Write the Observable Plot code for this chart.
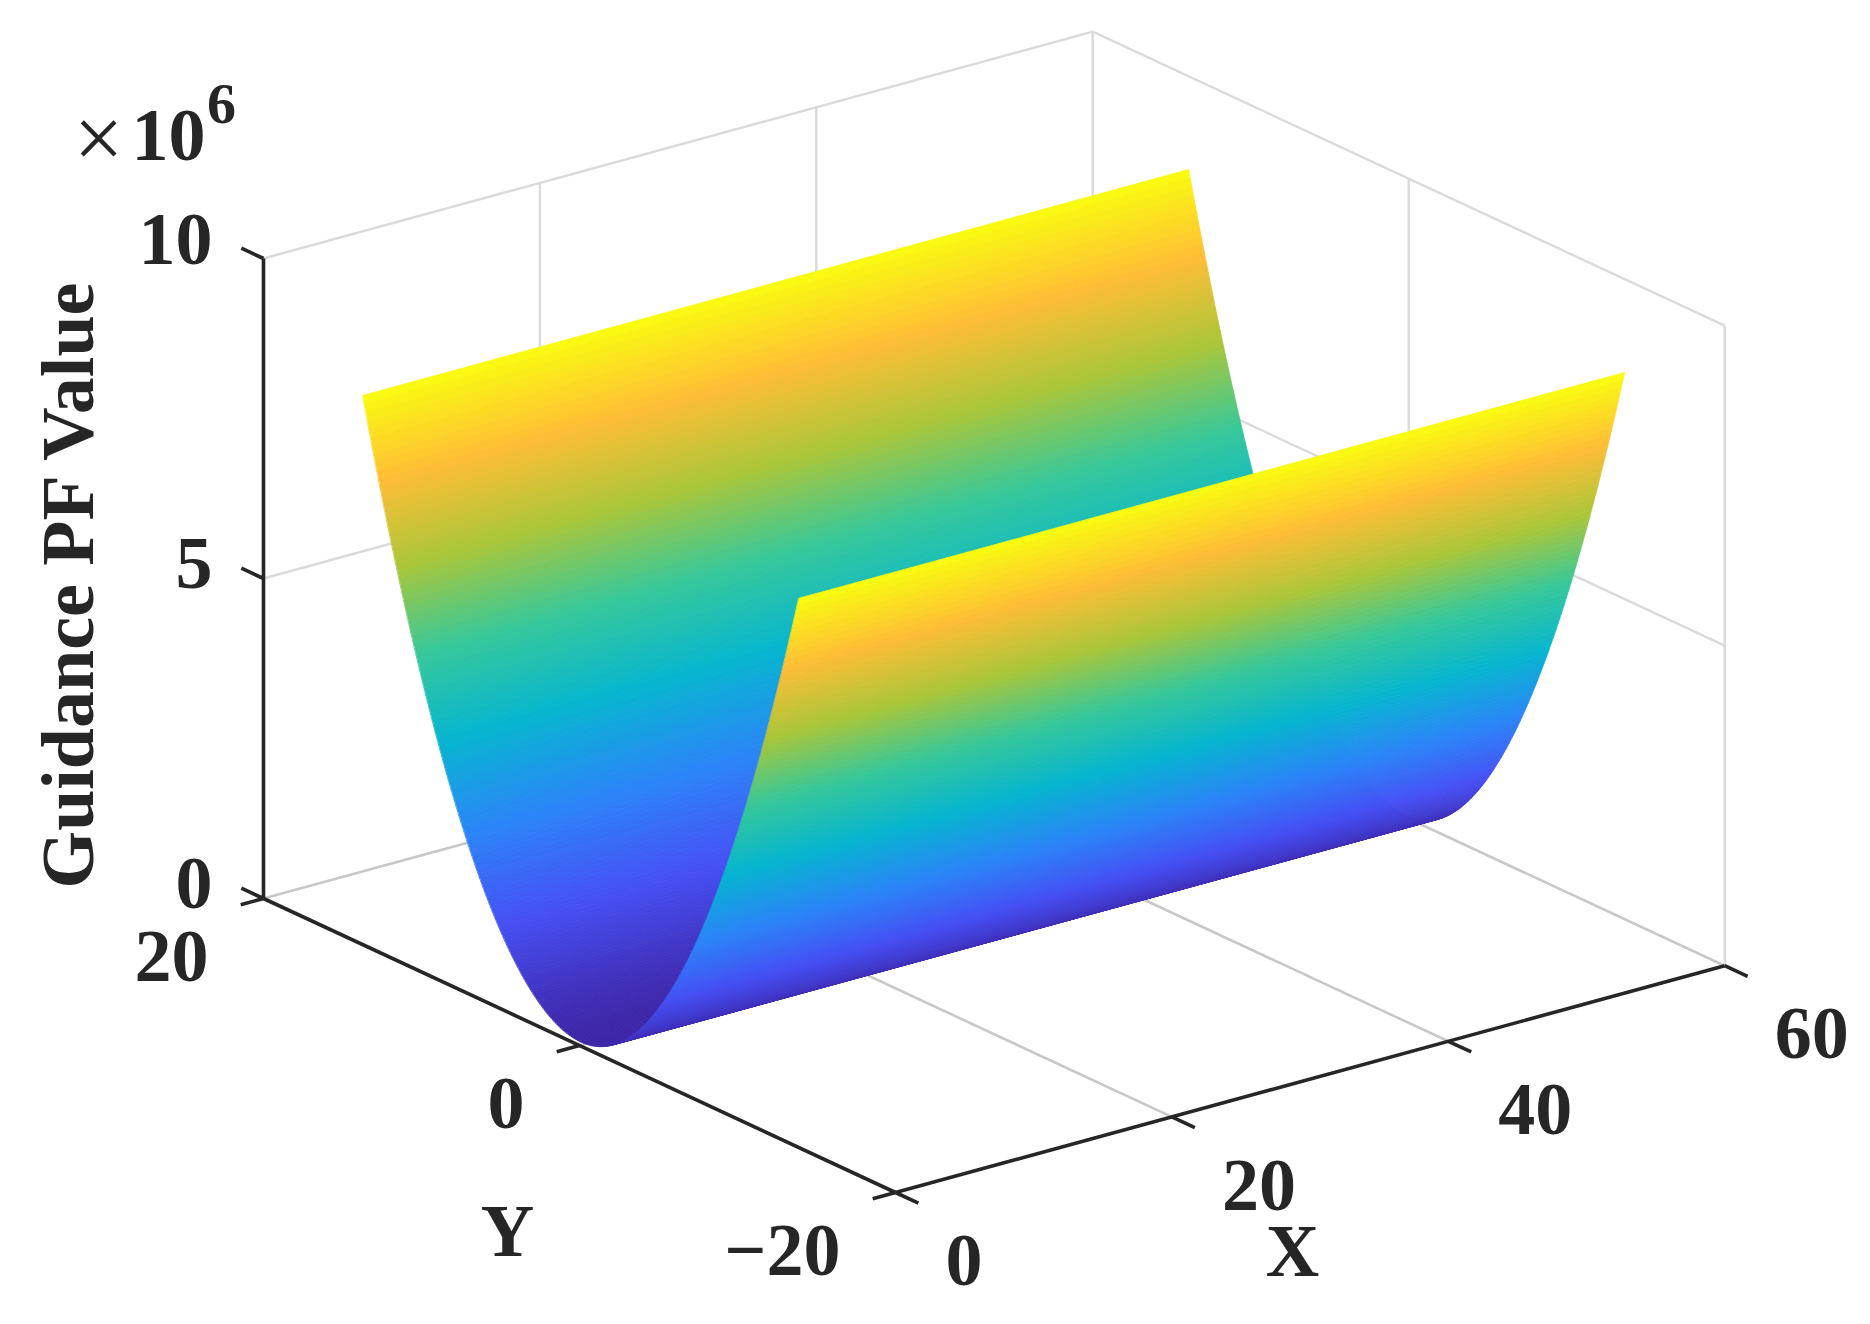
<!DOCTYPE html>
<html>
<head>
<meta charset="utf-8">
<style>html,body{margin:0;padding:0;background:#fff}svg{display:block;filter:blur(0.6px)}</style>
<script src="https://cdn.jsdelivr.net/npm/d3@7"></script>
<script src="https://cdn.jsdelivr.net/npm/@observablehq/plot@0.6"></script>
</head>
<body>
<script>
const xTicks = [0, 20, 40, 60];
const yTicks = [20, 0, -20];
const zTicks = [0, 5, 10];
const xSpan = [0.4, 60.15];
const troughY = 0.23;
const wallOffset = 13.8;
const wallScale = 1.031;
const offsetY = [0,.1,.2,.3,.4,.5,.6,.7,.8,.9,1,1.1,1.2,1.3,1.4,1.5,1.6,1.7,1.8,1.9,2,2.1,2.2,2.3,2.4,2.5,2.6,2.7,2.8,2.9,3,3.1,3.2,3.3,3.4,3.5,3.6,3.7,3.8,3.9,4,4.1,4.2,4.3,4.4,4.5,4.6,4.7,4.8,4.9,5,5.1,5.2,5.3,5.4,5.5,5.6,5.7,5.8,5.9,6,6.1,6.2,6.3,6.4,6.5,6.6,6.7,6.8,6.9,7,7.1,7.2,7.3,7.4,7.5,7.6,7.7,7.8,7.9,8,8.1,8.2,8.3,8.4,8.5,8.6,8.7,8.8,8.9,9,9.1,9.2,9.3,9.4,9.5,9.6,9.7,9.8,9.9,10,10.1,10.2,10.3,10.4,10.5,10.6,10.7,10.8,10.9,11,11.1,11.2,11.3,11.4,11.5,11.6,11.7,11.8,11.9,12,12.1,12.2,12.3,12.4,12.5,12.6,12.7,12.8,12.9,13,13.1,13.2,13.3,13.4,13.5,13.6,13.7,13.8];
const potential = [0,0,.002,.004,.007,.011,.016,.021,.028,.035,.043,.052,.062,.073,.085,.098,.111,.125,.141,.157,.173,.191,.21,.229,.25,.271,.293,.316,.34,.365,.39,.417,.444,.472,.501,.531,.562,.594,.626,.66,.694,.729,.765,.802,.84,.878,.918,.958,.999,1.041,1.084,1.128,1.173,1.218,1.265,1.312,1.36,1.409,1.459,1.51,1.561,1.614,1.667,1.721,1.776,1.832,1.889,1.947,2.005,2.065,2.125,2.186,2.248,2.311,2.375,2.44,2.505,2.571,2.639,2.707,2.776,2.846,2.916,2.988,3.06,3.133,3.208,3.283,3.359,3.435,3.513,3.592,3.671,3.751,3.832,3.914,3.997,4.081,4.165,4.251,4.337,4.424,4.512,4.601,4.691,4.781,4.873,4.965,5.059,5.153,5.248,5.344,5.44,5.538,5.636,5.736,5.836,5.937,6.039,6.142,6.245,6.35,6.455,6.561,6.669,6.777,6.885,6.995,7.106,7.217,7.33,7.443,7.557,7.672,7.787,7.904,8.022,8.14,8.259];
const parula = ["#3e26a8","#4650f5","#2b86f8","#06b6cf","#37c89a","#abc739","#ffbd36","#f9fb10"];

// Linear view of the MATLAB axes box: origin is the corner (x=0, y=-20, z=0).
function project(x, y, z) {
  return [895 + 13.82 * x - 15.8 * (y + 20), 1192 - 3.78 * x - 7.35 * (y + 20) - 64 * z];
}
function seg(a, b) {
  const p = project(...a), q = project(...b);
  return {x1: p[0], y1: p[1], x2: q[0], y2: q[1]};
}

// Surface rows, painted from the far wall (+y) to the near wall (-y).
const rows = [];
for (let i = offsetY.length - 1; i >= 0; i--) rows.push([troughY + offsetY[i], potential[i] * wallScale]);
for (let i = 1; i < offsetY.length && offsetY[i] <= wallOffset + 1e-9; i++) rows.push([troughY - offsetY[i], potential[i] * wallScale]);
const strips = [];
for (let k = 0; k + 1 < rows.length; k++) {
  const [ya, za] = rows[k], [yb, zb] = rows[k + 1];
  for (const x of xSpan) {
    const s = seg([x, ya, za], [x, yb, zb]);
    strips.push({...s, strip: k, value: (za + zb) / 2});
  }
}

const floorLines = [
  ...[20, 40].map(x => seg([x,-20,0],[x,20,0])),
  seg([0,0,0],[60,0,0]),
  seg([0,20,0],[60,20,0]), seg([60,20,0],[60,-20,0])
];
const wallLines = [
  ...[20, 40].map(x => seg([x,20,0],[x,20,10])),
  seg([60,0,0],[60,0,10]),
  ...[5, 10].flatMap(z => [seg([0,20,z],[60,20,z]), seg([60,20,z],[60,-20,z])]),
  seg([60,20,0],[60,20,10]), seg([60,-20,0],[60,-20,10])
];
const darkLines = [
  seg([0,-20,0],[0,20,0]), seg([0,-20,0],[60,-20,0]), seg([0,20,0],[0,20,10]),
  ...xTicks.map(x => seg([x,-20,0],[x,-21.45,0])),
  ...yTicks.map(y => seg([0,y,0],[-1.65,y,0])),
  ...zTicks.map(z => seg([0,20,z],[0,21.4,z]))
];

const font = {fontFamily: "Liberation Serif", fontWeight: "bold", fontSize: 74, fill: "#262626", lineAnchor: "middle"};
const px = d => d[0], py = d => d[1];
const zLabelPts = zTicks.map(z => [...project(0, 20, z), String(z)]);
const yLabelPts = yTicks.map(y => [...project(0, y, 0), String(y).replace("-", "\u2212")]);
const xLabelPts = xTicks.map(x => [...project(x, -20, 0), String(x)]);
const lineChannels = {x1: "x1", y1: "y1", x2: "x2", y2: "y2"};

const chart = Plot.plot({
  width: 1870, height: 1324,
  marginTop: 0, marginRight: 0, marginBottom: 0, marginLeft: 0,
  style: {background: "#fff"},
  x: {domain: [0, 1870], range: [0, 1870], axis: null},
  y: {domain: [0, 1324], range: [0, 1324], axis: null},
  color: {type: "linear", domain: [0, 8.5], interpolate: d3.piecewise(d3.interpolateRgb, parula)},
  marks: [
    Plot.link(wallLines, {...lineChannels, stroke: "#dadada", strokeWidth: 2.4}),
    Plot.link(floorLines, {...lineChannels, stroke: "#c8c8c8", strokeWidth: 2.6}),
    Plot.area(strips, {...lineChannels, z: "strip", fill: "value", stroke: "value", strokeWidth: 0.8}),
    Plot.link(darkLines, {...lineChannels, stroke: "#262626", strokeWidth: 3.6}),
    Plot.text(zLabelPts, {...font, x: px, y: d => d[1] - (d[2] === "10" ? 4 : 0), text: d => d[2], textAnchor: "end", dx: -51, dy: -14}),
    Plot.text(yLabelPts, {...font, x: px, y: py, text: d => d[2], textAnchor: "end", dx: -55, dy: 59}),
    Plot.text(xLabelPts, {...font, x: px, y: py, text: d => d[2], textAnchor: "start", dx: 50, dy: 69}),
    Plot.text(["Y"], {...font, x: () => 507, y: () => 1232}),
    Plot.text(["X"], {...font, x: () => 1292, y: () => 1252}),
    Plot.text(["Guidance PF Value"], {...font, x: () => 69, y: () => 585, rotate: -90, fontSize: 74}),
    Plot.text(["\u00d7"], {...font, x: () => 98, y: () => 139, fontSize: 88, fontWeight: "normal"}),
    Plot.text(["10"], {...font, x: () => 205, y: () => 136, textAnchor: "end"}),
    Plot.text(["6"], {...font, x: () => 221, y: () => 104, fontSize: 58})
  ]
});
document.body.appendChild(chart);
</script>
</body>
</html>
